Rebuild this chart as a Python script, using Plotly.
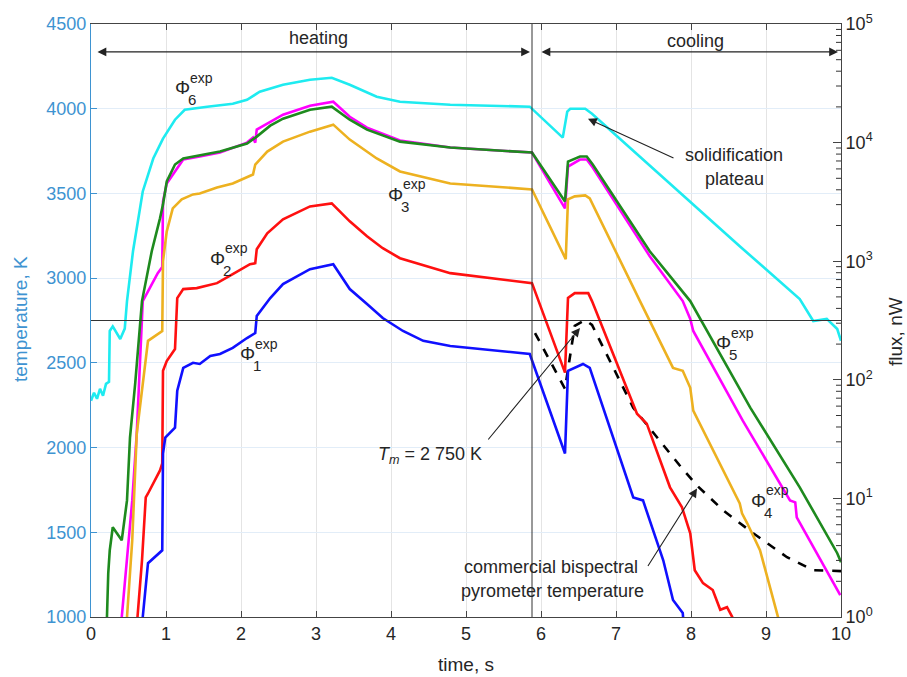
import math
import plotly.graph_objects as go

# ---------------- data ----------------
# flux signals, nW (right, log axis)
t_phi6 = [0.00, 0.04, 0.08, 0.12, 0.16, 0.20, 0.24, 0.25, 0.29, 0.39, 0.45, 0.48, 0.56, 0.69,
          0.83, 0.96, 1.12, 1.25, 1.55, 1.89, 2.08, 2.25, 2.56, 2.92, 3.21, 3.45, 3.81, 4.12, 4.79,
          5.85, 6.29, 6.35, 6.39, 6.59, 6.68, 8.65, 9.45, 9.63, 9.81, 9.95, 10.0]
phi6 = [66.6, 77.8, 69.2, 84.0, 73.4, 92.5, 96.0, 258, 282, 221, 270, 461, 1213, 3873,
        7345, 10810, 15600, 18930, 20090, 21270, 22970, 26840, 30710, 33830, 35190, 30710, 24370, 22110, 20850,
        20090, 11020, 18230, 19310, 19310, 17540, 1337, 480, 313, 326, 268, 213]

t_phi5 = [0.20, 0.23, 0.25, 0.29, 0.41, 0.48, 0.52, 0.59, 0.68, 0.81, 0.92, 0.96, 1.01, 1.12, 1.23,
          1.45, 1.72, 2.08, 2.21, 2.39, 2.56, 2.92, 3.21, 3.45, 3.68, 4.12, 4.79, 5.88, 6.32, 6.36,
          6.52, 6.61, 6.69, 7.45, 7.99, 8.79, 9.45, 9.95, 10.0]
phi5 = [0.53, 2.34, 3.65, 5.71, 4.44, 9.62, 32.6, 94.0, 461, 1213, 2298, 3013, 4700, 6534, 7345,
        7780, 8400, 9810, 11230, 13900, 15920, 18930, 20090, 15600, 12860, 10190, 9080, 8240, 3193, 6920,
        7630, 7630, 6534, 1213, 461, 58.2, 12.4, 3.45, 2.9]

t_phi4 = [0.40, 0.41, 0.55, 0.61, 0.69, 0.79, 0.89, 0.95, 0.96, 1.01, 1.23, 1.45, 1.72, 2.08,
          2.16, 2.19, 2.21, 2.56, 2.92, 3.23, 3.45, 3.68, 4.12, 4.79, 5.88, 6.32, 6.36, 6.52, 6.61,
          6.69, 7.45, 7.89, 7.99, 8.03, 8.69, 9.32, 9.39, 9.41, 9.99]
phi4 = [0.53, 1.0, 9.62, 35.2, 461, 610, 793, 891, 3193, 4520, 7200, 7630, 8240, 10000,
        11020, 10000, 12860, 17180, 20460, 22110, 16520, 13370, 10400, 9080, 8240, 2790, 6280, 7200, 7200,
        6170, 1102, 461, 326, 258, 45.2, 9.62, 9.26, 6.92, 1.53]

t_phi3 = [0.47, 0.48, 0.55, 0.61, 0.76, 0.95, 0.96, 1.01, 1.09, 1.21, 1.36, 1.45, 1.68, 1.89,
          2.16, 2.19, 2.35, 2.56, 2.92, 3.23, 3.45, 3.81, 4.12, 4.79, 5.88, 6.33, 6.36, 6.45, 6.59,
          6.65, 7.32, 7.76, 7.89, 7.99, 8.03, 8.65, 8.68, 8.75, 8.92, 9.16, 9.19]
phi3 = [0.53, 1.0, 4.44, 35.2, 213, 258, 1000, 1786, 2790, 3320, 3656, 3727, 4190, 4520,
        5380, 6534, 8400, 10190, 12370, 14170, 10600, 7345, 5710, 4520, 4030, 1040, 3320, 3520, 3590,
        3380, 461, 126, 119, 85.7, 54.9, 9.08, 7.48, 6.17, 3.66, 1.0, 0.64]

t_phi2 = [0.61, 0.62, 0.68, 0.73, 0.76, 0.92, 0.95, 0.96, 1.01, 1.12, 1.15, 1.23, 1.41, 1.68, 1.89,
          2.12, 2.19, 2.21, 2.35, 2.56, 2.92, 3.21, 3.45, 3.68, 3.89, 4.12, 4.79, 5.88, 6.32, 6.36,
          6.45, 6.63, 6.68, 7.28, 7.41, 7.72, 7.88, 7.99, 8.05, 8.16, 8.29, 8.39, 8.48, 8.55, 8.59]
phi2 = [0.53, 1.0, 3.0, 10.2, 11.0, 17.2, 19.7, 119, 144, 182, 489, 582, 593, 653, 778,
        944, 962, 1262, 1718, 2254, 2898, 3070, 2168, 1622, 1286, 1060, 793, 653, 115, 489,
        538, 538, 461, 51.8, 42.7, 12.4, 8.40, 5.08, 2.48, 1.93, 1.69, 1.15, 1.21, 1.0, 0.64]

t_phi1 = [0.68, 0.69, 0.76, 0.95, 0.96, 0.99, 1.12, 1.15, 1.23, 1.36, 1.45, 1.59, 1.72, 1.89, 2.08,
          2.19, 2.21, 2.39, 2.56, 2.92, 3.23, 3.45, 3.68, 3.89, 4.16, 4.43, 4.79, 5.85, 6.32, 6.36,
          6.56, 6.65, 7.23, 7.36, 7.63, 7.76, 7.89, 7.92]
phi1 = [0.53, 1.0, 2.84, 3.65, 23.9, 32.6, 39.5, 80.9, 126, 139, 136, 159, 165, 186, 225,
        248, 345, 489, 641, 857, 944, 582, 435, 332, 258, 213, 193, 165, 23.9, 119,
        136, 126, 10.2, 9.62, 3.01, 1.39, 1.08, 0.64]

# commercial bispectral pyrometer temperature, K (left axis)
t_pyro = [5.92, 6.32, 6.45, 6.59, 6.68, 7.23, 7.85, 8.08, 8.43, 8.83, 9.28, 9.63, 10.0]
T_pyro = [2676, 2347, 2718, 2753, 2724, 2235, 1894, 1776, 1629, 1494, 1353, 1276, 1271]

T_melt = 2750          # K
t_switch = 5.88        # s, heating -> cooling

temp_ticks = [1000, 1500, 2000, 2500, 3000, 3500, 4000, 4500]
flux_ticks = [1, 10, 100, 1000, 10000, 100000]
flux_ticktext = ["10<sup>%d</sup>" % k for k in range(6)]
flux_minor = [m * 10 ** k for k in range(5) for m in range(2, 10)]
time_ticks = list(range(0, 11))
FLUX_DECADES = 5       # right axis spans 10^0 .. 10^5

# ---------------- styling ----------------
FONT = "Liberation Sans, Arial, sans-serif"
BLUE_AX = "#3E93D1"
DARK = "#262626"
L, R, T, B = 91, 66, 22, 60
W, H = 907, 677
PW, PH = W - L - R, H - T - B


def px(xp):
    return (xp - L) / PW


def py(yp):
    return (H - B - yp) / PH


fig = go.Figure()

series = [
    (t_phi6, phi6, "#1EEBF0", "Φ6"),
    (t_phi4, phi4, "#FF00FF", "Φ4"),
    (t_phi5, phi5, "#1E8A1E", "Φ5"),
    (t_phi3, phi3, "#EDB120", "Φ3"),
    (t_phi2, phi2, "#FF1010", "Φ2"),
    (t_phi1, phi1, "#1010FF", "Φ1"),
]
for tx, fy, col, nm in series:
    fig.add_trace(go.Scatter(x=tx, y=fy, mode="lines", name=nm, yaxis="y2",
                             line=dict(color=col, width=2.6)))

fig.add_trace(go.Scatter(x=t_pyro, y=T_pyro, mode="lines", name="pyrometer", yaxis="y",
                         line=dict(color="black", width=2.6, dash="dash")))

shapes = [
    dict(type="line", xref="x", yref="y", x0=0, x1=10, y0=T_melt, y1=T_melt,
         line=dict(color="#333333", width=1)),
    dict(type="line", xref="x", yref="paper", x0=t_switch, x1=t_switch, y0=0, y1=1,
         line=dict(color="#333333", width=1)),
]
# minor log ticks on the right (flux) axis, placed in paper space along the log scale
for v in flux_minor:
    yp = math.log10(v) / FLUX_DECADES
    shapes.append(dict(type="line", xref="paper", yref="paper", x0=1 - 5 / PW, x1=1,
                       y0=yp, y1=yp, line=dict(color="#333333", width=1)))

ann = []


def text(xp, yp, s, size=18, color=DARK, **kw):
    ann.append(dict(x=px(xp), y=py(yp), xref="paper", yref="paper", text=s, showarrow=False,
                    xanchor="center", yanchor="middle",
                    font=dict(size=size, color=color, family=FONT), **kw))


def arrow(x0, y0, x1, y1, both=False):
    ann.append(dict(x=px(x1), y=py(y1), xref="paper", yref="paper", ax=x0 - x1, ay=y0 - y1,
                    axref="pixel", ayref="pixel", text="", showarrow=True, arrowhead=2,
                    arrowsize=1.6, arrowwidth=1.1, arrowcolor="#222222",
                    arrowside="end+start" if both else "end", startarrowhead=2,
                    startarrowsize=1.6, standoff=0, startstandoff=0))


# phase arrows
arrow(96, 50, 530, 50, both=True)
arrow(540, 50, 838, 50, both=True)
text(318, 36, "heating", 18)
text(695, 39, "cooling", 18)

# Φ labels
phi_labels = [(182, 86, "6"), (395, 193, "3"), (217, 257, "2"), (247, 353, "1"),
              (723, 342, "5"), (758, 500, "4")]
for xp_, yp_, n in phi_labels:
    text(xp_, yp_, "Φ", 19)
    text(xp_ + 19, yp_ - 10, "exp", 14)
    text(xp_ + 10, yp_ + 12, n, 15)

# callouts
text(734, 153, "solidification", 18)
text(734, 178, "plateau", 18)
arrow(675, 157, 588, 117)

text(430, 455, "<i>T</i><sub><i>m</i></sub> = 2 750 K", 18)
arrow(487, 440, 580, 327)

text(551, 567, "commercial bispectral", 18)
text(552, 591, "pyrometer temperature", 18)
arrow(647, 567, 697, 488)

# axis titles
text(20, 318, "temperature, K", 19, color=BLUE_AX, textangle=-90)
text(896, 330, "flux, nW", 19, color=DARK, textangle=-90)
text(466, 665, "time, s", 19)

fig.update_layout(
    width=W, height=H,
    margin=dict(l=L, r=R, t=T, b=B),
    paper_bgcolor="white", plot_bgcolor="white",
    showlegend=False,
    font=dict(family=FONT, size=18, color=DARK),
    shapes=shapes, annotations=ann,
    xaxis=dict(range=[0, 10], tickvals=time_ticks, ticks="inside", ticklen=6, tickcolor="#444444",
               showline=True, linecolor="#444444", linewidth=1, mirror="ticks",
               showgrid=True, gridcolor="#E4E4E4", gridwidth=1, zeroline=False,
               tickfont=dict(size=18, color=DARK)),
    yaxis=dict(range=[1000, 4500], tickvals=temp_ticks, ticks="inside", ticklen=6, tickcolor=BLUE_AX,
               showline=True, linecolor=BLUE_AX, linewidth=1.2, showgrid=True, gridcolor="#E2EDF8",
               zeroline=False, tickfont=dict(size=18, color=BLUE_AX)),
    yaxis2=dict(type="log", range=[0, FLUX_DECADES], overlaying="y", side="right", tickvals=flux_ticks,
                ticktext=flux_ticktext, ticks="inside", ticklen=8, tickcolor="#444444",
                showline=True, linecolor="#444444", linewidth=1, showgrid=False, zeroline=False,
                tickfont=dict(size=18, color=DARK)),
)

fig.write_html("out.html")
